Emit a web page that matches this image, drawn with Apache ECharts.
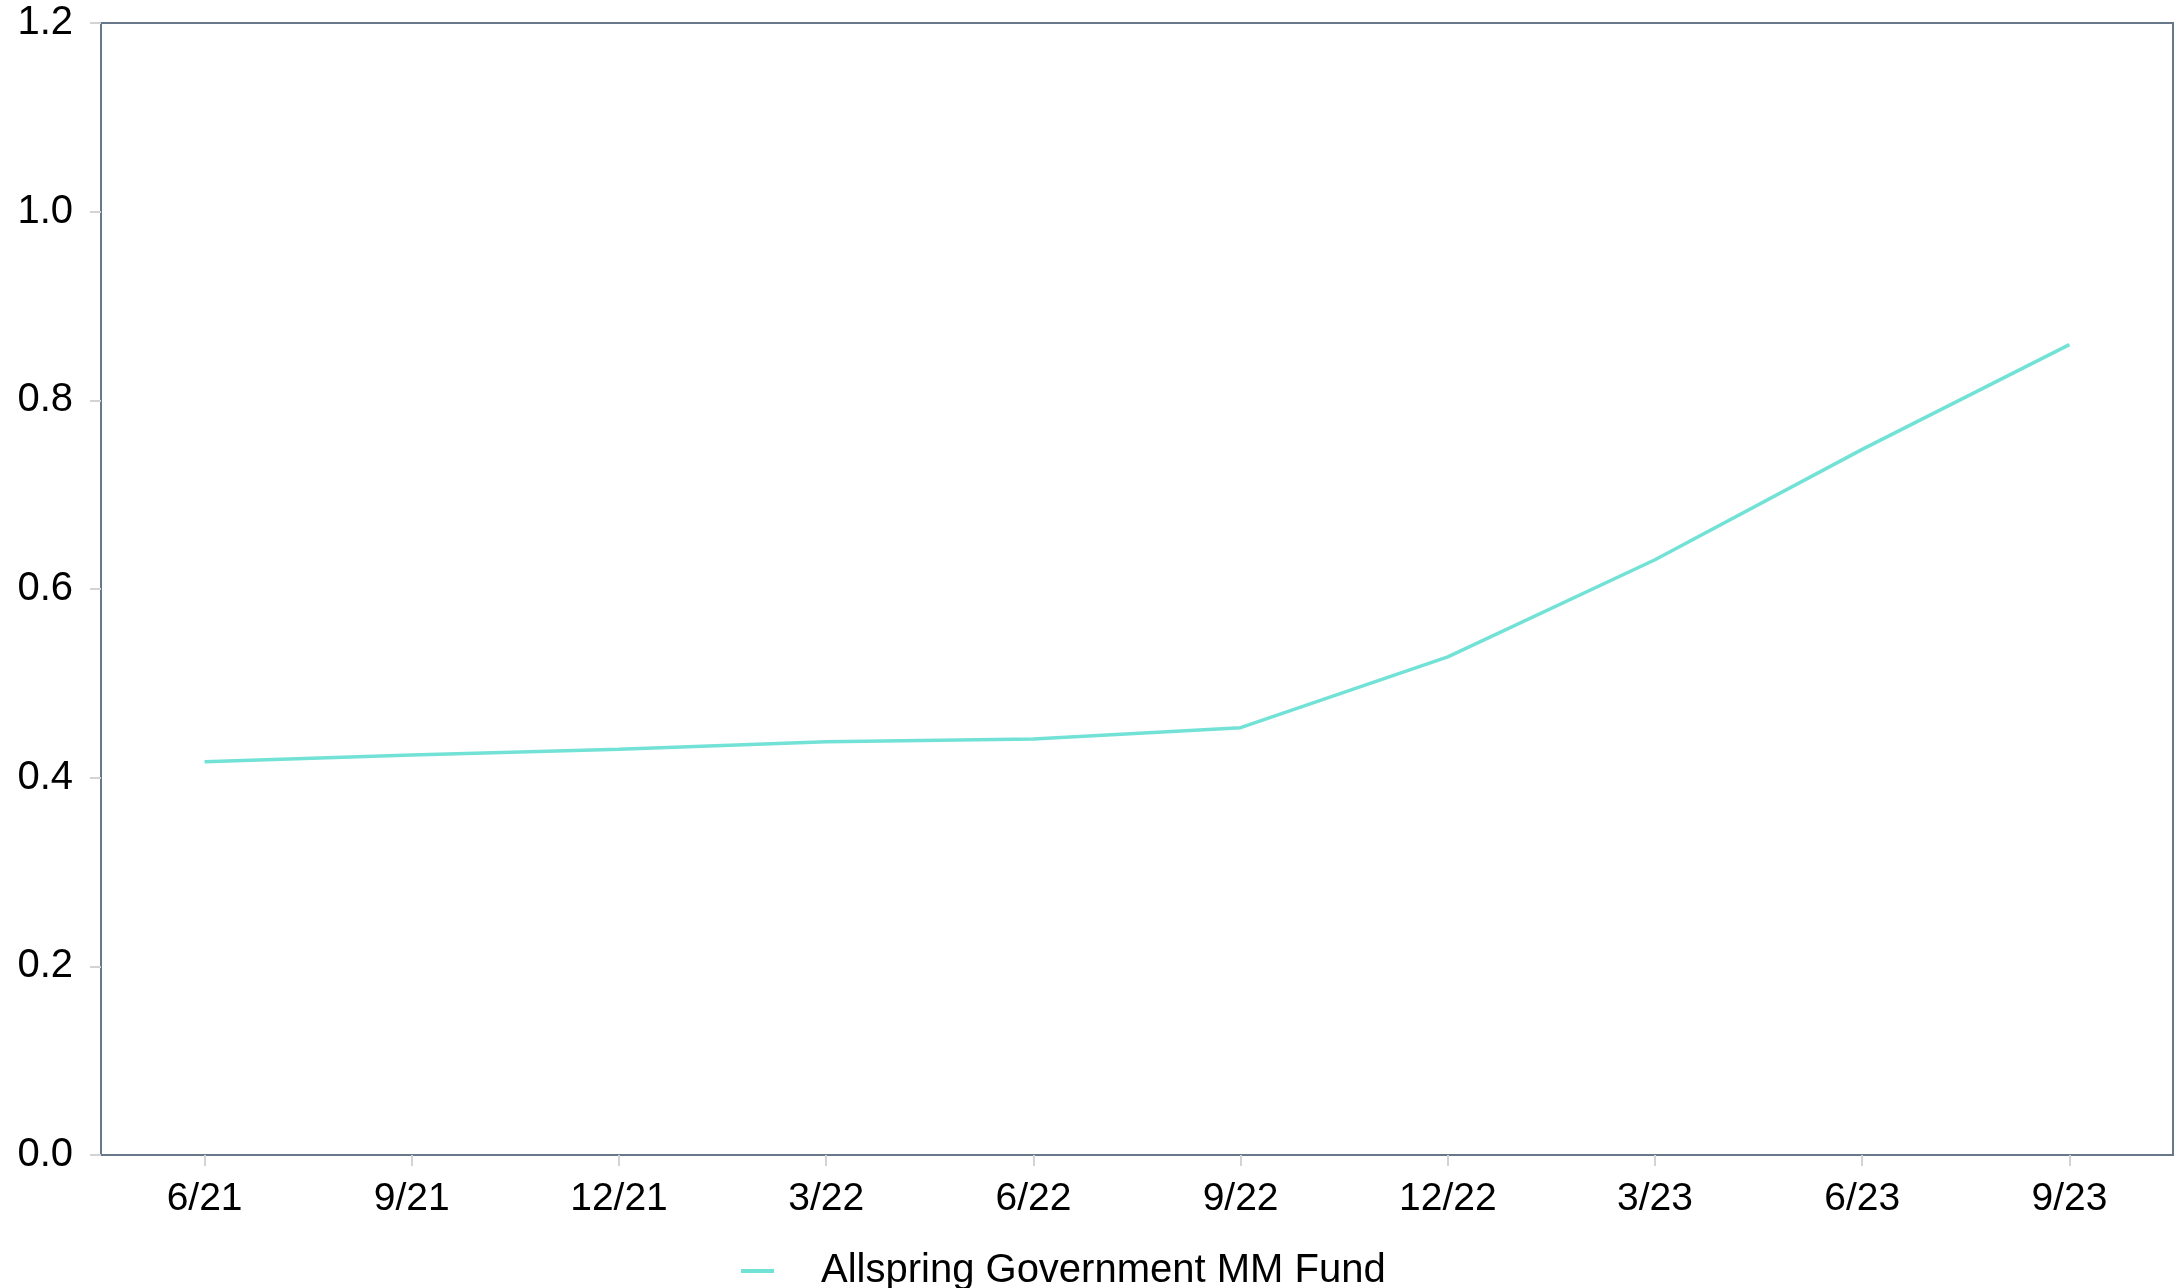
<!DOCTYPE html>
<html><head><meta charset="utf-8">
<script src="https://cdn.jsdelivr.net/npm/echarts@6/dist/echarts.min.js"></script>
<style>html,body{margin:0;padding:0;background:#fff}#c{width:2177px;height:1288px}</style>
</head><body><div id="c"></div>
<script>
const categories = ['6/21','9/21','12/21','3/22','6/22','9/22','12/22','3/23','6/23','9/23'];
const fundValues = [0.417,0.424,0.430,0.438,0.441,0.453,0.528,0.631,0.748,0.859];
const seriesName = 'Allspring Government MM Fund';
const yTicks = {min:0, max:1.2, interval:0.2};

const chart = echarts.init(document.getElementById('c'), null, {renderer:'canvas'});
const font = '"Liberation Sans", Arial, Helvetica, sans-serif';
chart.setOption({
  animation:false,
  backgroundColor:'#ffffff',
  textStyle:{fontFamily:font},
  grid:{left:101, right:4, top:23, bottom:133, show:true, borderColor:'#67788a', borderWidth:2, backgroundColor:'transparent'},
  legend:{
    top:1251, left:741, itemWidth:33, itemHeight:4, itemGap:20, padding:0,
    icon:'rect',
    textStyle:{fontSize:40, color:'#000', fontFamily:font, padding:[0,0,0,42]},
    data:[{name:seriesName}]
  },
  xAxis:{
    type:'category', data:categories, boundaryGap:true,
    axisLine:{show:true, lineStyle:{color:'#67788a', width:2}},
    axisTick:{show:true, alignWithLabel:true, length:11, lineStyle:{color:'#d3d3d3', width:2}},
    axisLabel:{fontSize:39, color:'#000', margin:25, fontFamily:font},
    splitLine:{show:false}
  },
  yAxis:{
    type:'value', min:yTicks.min, max:yTicks.max, interval:yTicks.interval,
    axisLine:{show:true, lineStyle:{color:'#67788a', width:2}},
    axisTick:{show:true, length:11, lineStyle:{color:'#d3d3d3', width:2}},
    axisLabel:{fontSize:40, color:'#000', margin:28, fontFamily:font, formatter:v=>v.toFixed(1)},
    splitLine:{show:false}
  },
  series:[{
    name:seriesName, type:'line', data:fundValues,
    showSymbol:false, symbol:'none',
    lineStyle:{color:'#72e2d6', width:3.5},
    itemStyle:{color:'#72e2d6'}
  }]
});
</script></body></html>
